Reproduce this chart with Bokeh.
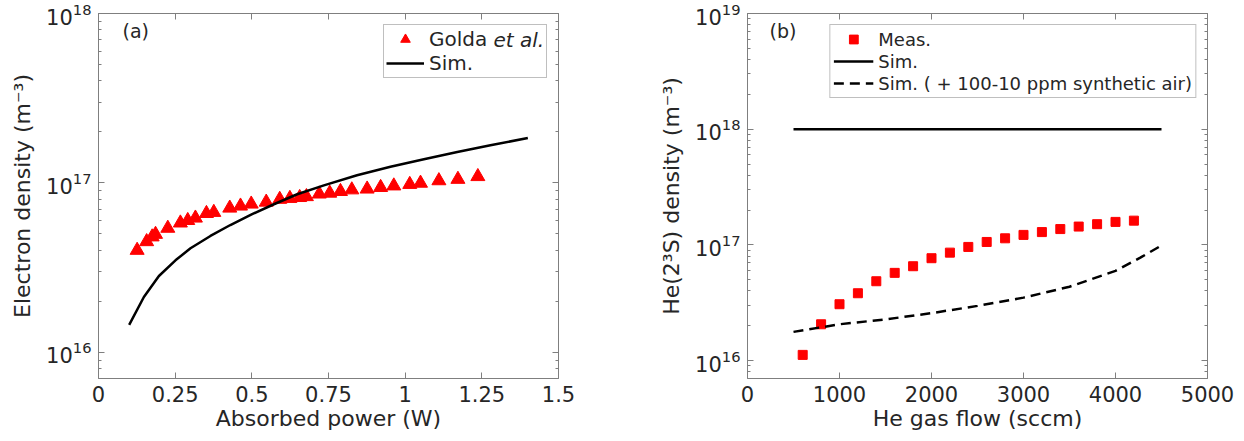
import numpy as np
from bokeh.plotting import figure
from bokeh.models import (LogAxis, LinearAxis, FixedTicker, LogTicker, Legend, LegendItem,
                          Label, Range1d, CustomJSTickFormatter)
from bokeh.layouts import row
from bokeh.embed import file_html
from bokeh.resources import INLINE

# ---------------- Panel (a) data ----------------
golda_power = [0.126, 0.157, 0.175, 0.186, 0.226, 0.267, 0.291, 0.316, 0.352, 0.376,
               0.428, 0.463, 0.498, 0.547, 0.591, 0.624, 0.656, 0.678, 0.720, 0.754,
               0.789, 0.826, 0.876, 0.920, 0.963, 1.015, 1.050, 1.110, 1.172, 1.237]
golda_ne = [4.0e16, 4.5e16, 4.8e16, 4.97e16, 5.4e16, 5.8e16, 6.0e16, 6.2e16, 6.6e16, 6.7e16,
            7.1e16, 7.3e16, 7.5e16, 7.7e16, 8.0e16, 8.1e16, 8.2e16, 8.3e16, 8.6e16, 8.7e16,
            8.9e16, 9.1e16, 9.2e16, 9.4e16, 9.6e16, 9.8e16, 9.96e16, 1.03e17, 1.05e17, 1.09e17]
sim_a_power = [0.10, 0.148, 0.197, 0.251, 0.30, 0.365, 0.43, 0.501, 0.572, 0.648,
               0.735, 0.843, 0.952, 1.061, 1.17, 1.278, 1.40]
sim_a_ne = [1.45e16, 2.12e16, 2.82e16, 3.49e16, 4.11e16, 4.86e16, 5.64e16, 6.53e16, 7.48e16, 8.57e16,
            9.66e16, 1.11e17, 1.245e17, 1.38e17, 1.52e17, 1.667e17, 1.84e17]
xticks_a = [0, 0.25, 0.5, 0.75, 1, 1.25, 1.5]
xtick_labels_a = ["0", "0.25", "0.5", "0.75", "1", "1.25", "1.5"]

# ---------------- Panel (b) data ----------------
meas_flow = [600, 800, 1000, 1200, 1400, 1600, 1800, 2000, 2200, 2400,
             2600, 2800, 3000, 3200, 3400, 3600, 3800, 4000, 4200]
meas_he = [1.12e16, 2.06e16, 3.07e16, 3.82e16, 4.85e16, 5.73e16, 6.54e16, 7.67e16, 8.57e16, 9.6e16,
           1.06e17, 1.14e17, 1.22e17, 1.29e17, 1.37e17, 1.44e17, 1.51e17, 1.58e17, 1.62e17]
sim_flow = [500, 4500]
sim_he = [1e18, 1e18]
air_flow = [500, 1000, 1500, 2000, 2500, 3000, 3500, 4000, 4270, 4500]
air_he = [1.77e16, 2.06e16, 2.27e16, 2.57e16, 2.97e16, 3.5e16, 4.35e16, 5.96e16, 7.76e16, 9.9e16]
xticks_b = [0, 1000, 2000, 3000, 4000, 5000]
xtick_labels_b = ["0", "1000", "2000", "3000", "4000", "5000"]

FONT = "DejaVu Sans"
AX = "#7f7f7f"
TXT = "#262626"
EMPTY = CustomJSTickFormatter(code="return ''")


def style_axis(ax, labels=True):
    ax.axis_line_color = AX
    ax.major_tick_line_color = AX
    ax.minor_tick_line_color = AX
    ax.major_tick_in = 6
    ax.major_tick_out = 0
    ax.minor_tick_in = 3
    ax.minor_tick_out = 0
    ax.major_label_text_font = FONT
    ax.major_label_text_color = TXT
    ax.major_label_text_font_size = "21px"
    ax.axis_label_text_font = FONT
    ax.axis_label_text_color = TXT
    ax.axis_label_text_font_size = "22px"
    ax.axis_label_text_font_style = "normal"
    if not labels:
        ax.major_label_text_font_size = "1px"
        ax.major_label_standoff = 0


def make_fig(xr, yr, bl, br, xticks, xlabels, xlabel, ylabel):
    p = figure(width=622, height=441, x_range=xr, y_range=yr, y_axis_type="log",
               output_backend="svg", toolbar_location=None,
               min_border_left=bl, min_border_right=br, min_border_top=13, min_border_bottom=63)
    p.xgrid.visible = False
    p.ygrid.visible = False
    p.outline_line_color = None
    p.background_fill_color = "white"
    p.border_fill_color = "white"

    xa = p.xaxis[0]
    xa.ticker = FixedTicker(ticks=xticks, minor_ticks=[])
    xa.major_label_overrides = {t: l for t, l in zip(xticks, xlabels)}
    xa.axis_label = xlabel
    style_axis(xa)
    xa.minor_tick_in = 0
    xa.major_label_standoff = 7
    xa.axis_label_standoff = 1

    ya = p.yaxis[0]
    ya.ticker = LogTicker(num_minor_ticks=10)
    ya.axis_label = ylabel
    style_axis(ya)
    ya.major_label_standoff = 7
    ya.axis_label_standoff = 8

    top = LinearAxis(ticker=FixedTicker(ticks=xticks, minor_ticks=[]), formatter=EMPTY)
    style_axis(top, labels=False)
    top.minor_tick_in = 0
    p.add_layout(top, "above")

    right = LogAxis(ticker=LogTicker(num_minor_ticks=10), formatter=EMPTY)
    style_axis(right, labels=False)
    p.add_layout(right, "right")
    return p


def style_legend(lg, size, gw, gh, pad, lw):
    lg.label_text_font = FONT
    lg.label_text_font_size = size
    lg.label_text_color = TXT
    lg.border_line_color = AX
    lg.border_line_width = 1
    lg.glyph_width = gw
    lg.glyph_height = gh
    lg.label_height = gh
    lg.label_width = lw
    lg.label_standoff = 5
    lg.padding = pad
    lg.spacing = 0
    lg.margin = 11


# ---------------- Panel (a) ----------------
pa = make_fig(Range1d(0, 1.5), Range1d(7e15, 1e18), 98, 64, xticks_a, xtick_labels_a,
              "Absorbed power (W)", "Electron density (m⁻³)")
ra1 = pa.scatter(golda_power, golda_ne, marker="triangle", size=14, color="#ff0000")
ra2 = pa.line(sim_a_power, sim_a_ne, line_color="black", line_width=2.5)
pa.add_layout(Label(x=395, y=339, x_units="screen", y_units="screen", text="et al.",
                    text_font=FONT, text_font_size="20px", text_font_style="italic",
                    text_color=TXT, text_baseline="middle", level="overlay"))
leg_a = Legend(items=[LegendItem(label="Golda", renderers=[ra1]),
                      LegendItem(label="Sim.", renderers=[ra2])],
               location="top_right")
style_legend(leg_a, "20px", 38, 24, 2, 115)
leg_a.background_fill_alpha = 0
pa.add_layout(leg_a)
pa.add_layout(Label(x=24, y=359, x_units="screen", y_units="screen", text="(a)",
                    text_font=FONT, text_font_size="19px", text_color=TXT, text_baseline="top"))

# ---------------- Panel (b) ----------------
pb = make_fig(Range1d(0, 5000), Range1d(7e15, 1e19), 125, 37, xticks_b, xtick_labels_b,
              "He gas flow (sccm)", "He(2³S) density (m⁻³)")
rb1 = pb.scatter(meas_flow, meas_he, marker="square", size=9, color="#ff0000")
rb2 = pb.line(sim_flow, sim_he, line_color="black", line_width=2.5)
rb3 = pb.line(air_flow, air_he, line_color="black", line_width=2.5, line_dash="10 6")
leg_b = Legend(items=[LegendItem(label="Meas.", renderers=[rb1]),
                      LegendItem(label="Sim.", renderers=[rb2]),
                      LegendItem(label="Sim. ( + 100-10 ppm synthetic air)", renderers=[rb3])],
               location="top_right")
style_legend(leg_b, "18px", 40, 22, 3, 20)
pb.add_layout(leg_b)
pb.add_layout(Label(x=22, y=359, x_units="screen", y_units="screen", text="(b)",
                    text_font=FONT, text_font_size="19px", text_color=TXT, text_baseline="top"))

layout = row(pa, pb)
open("out.html", "w").write(file_html(layout, INLINE))
